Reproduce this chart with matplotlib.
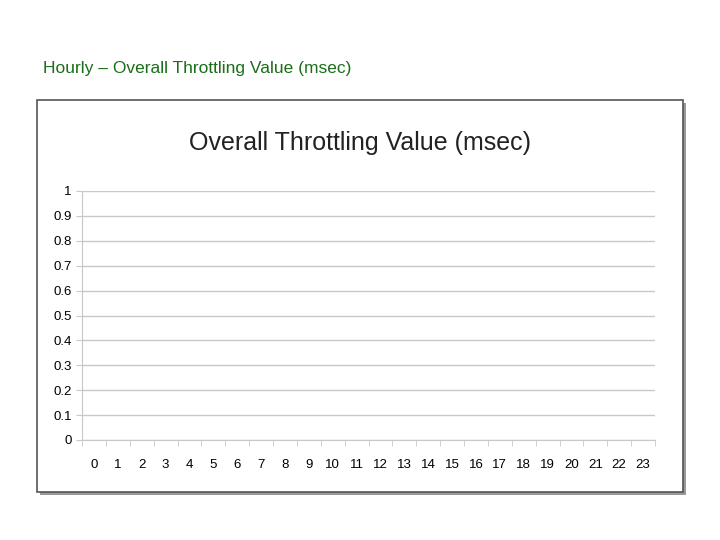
import matplotlib
matplotlib.use("Agg")
import matplotlib.pyplot as plt
from matplotlib.patches import Rectangle

hours = list(range(24))
y_ticks = [0, 0.1, 0.2, 0.3, 0.4, 0.5, 0.6, 0.7, 0.8, 0.9, 1]
y_labels = ["0", "0.1", "0.2", "0.3", "0.4", "0.5", "0.6", "0.7", "0.8", "0.9", "1"]

plt.rcParams["font.family"] = ["Liberation Sans", "DejaVu Sans"]

fig = plt.figure(figsize=(7.2, 5.4), dpi=100)
fig.patch.set_facecolor("white")

fig.text(43 / 720, 1 - 68 / 540, "Hourly \u2013 Overall Throttling Value (msec)",
         color="#1a6e1a", fontsize=12.5, va="center", ha="left")

# chart frame with shadow, kept under the axes
fig.patches.append(Rectangle((40 / 720, 1 - 495 / 540), 646 / 720, 392 / 540,
                             transform=fig.transFigure, facecolor="#999999",
                             edgecolor="none", zorder=-2))
fig.patches.append(Rectangle((37 / 720, 1 - 492 / 540), 646 / 720, 392 / 540,
                             transform=fig.transFigure, facecolor="white",
                             edgecolor="#555555", linewidth=1.2, zorder=-1))

fig.text(360 / 720, 1 - 143 / 540, "Overall Throttling Value (msec)",
         fontsize=18, ha="center", va="center", color="#222222")

ax = fig.add_axes([82 / 720, 1 - 440 / 540, 573 / 720, 249 / 540])
ax.set_facecolor("none")
ax.set_xlim(-0.5, 23.5)
ax.set_ylim(0, 1)
ax.set_yticks(y_ticks)
ax.set_yticklabels(y_labels)
ax.set_xticks(hours)
ax.set_xticklabels([str(h) for h in hours])
ax.set_xticks([h - 0.5 for h in hours] + [23.5], minor=True)
ax.grid(axis="y", color="#c8c8c8", linewidth=1)
for s in ["top", "right"]:
    ax.spines[s].set_visible(False)
ax.spines["left"].set_color("#c8c8c8")
ax.spines["bottom"].set_color("#c8c8c8")
ax.tick_params(axis="x", which="major", length=0, pad=14, labelsize=9.5)
ax.tick_params(axis="x", which="minor", length=4, color="#c8c8c8")
ax.tick_params(axis="y", length=4, color="#c8c8c8", labelsize=9.5)

fig.savefig("out.png", dpi=100)
